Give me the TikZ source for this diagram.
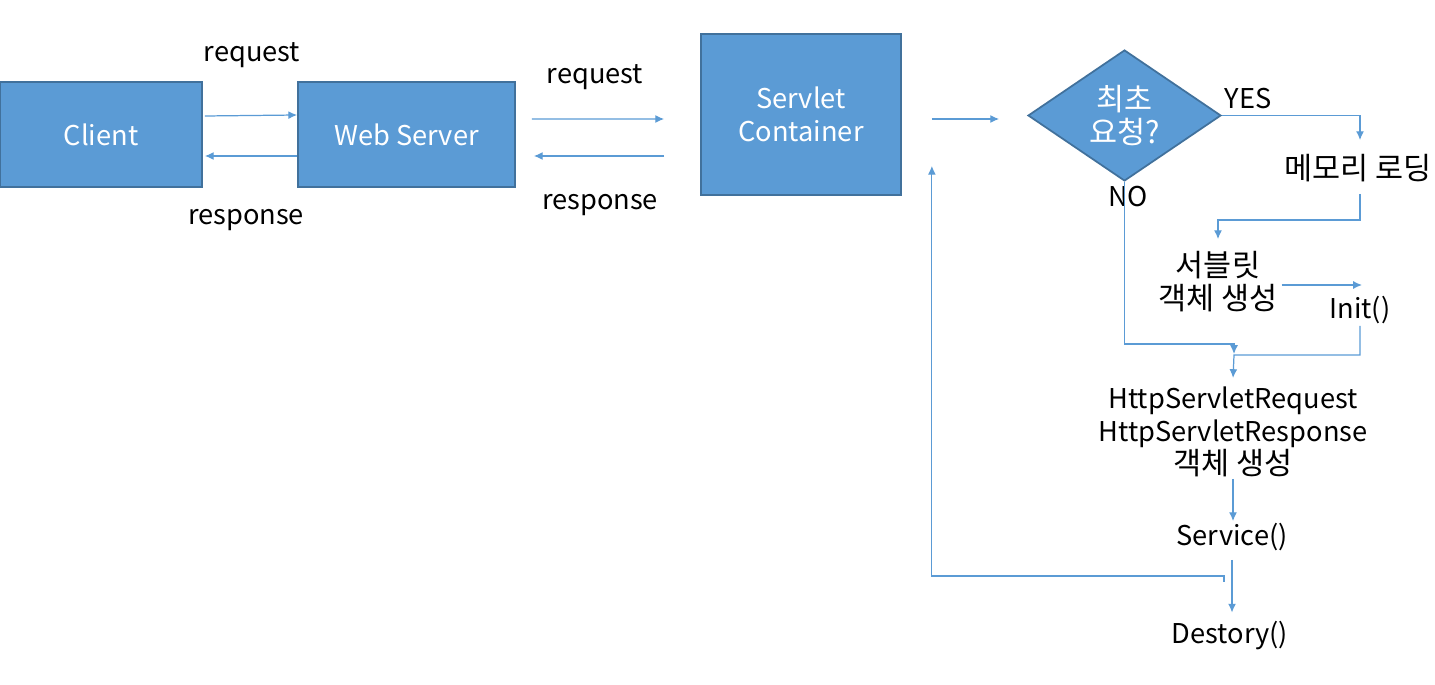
\documentclass[tikz,border=0pt]{standalone}
\usepackage{fontspec}
\setmainfont{Noto Sans CJK KR}
\newfontfamily\kr[Scale=1.12]{Noto Sans CJK KR}
\usetikzlibrary{shapes.geometric,arrows.meta}
\definecolor{boxblue}{HTML}{5B9BD5}
\definecolor{boxedge}{HTML}{41719C}
\def \tipSize {5pt}

\begin{document}
\begin{tikzpicture}[x=0.02cm, y=-0.02cm,
      every node/.style={font=\fontsize{15.5}{18.7}\selectfont},
      box/.style={draw=boxedge, line width=1pt, fill=boxblue, text=white, align=center, inner sep=0pt},
      decision/.style={diamond, draw=boxedge, line width=1pt, fill=boxblue, text=white, align=center,
         inner sep=0pt, minimum width=3.86cm, minimum height=2.3cm},
      lbl/.style={align=center, inner sep=1pt},
      arr/.style={-{Latex[length=\tipSize, width=4.5pt]}, draw=boxblue, line width=0.7pt}]
      \useasboundingbox (0, 0) rectangle (1435, 685);
      % blocks
      \node[box, minimum width=4.04cm, minimum height=2.1cm] (client) at (101, 134.5) {Client};
      \node[box, minimum width=4.34cm, minimum height=2.1cm] (web) at (406.5, 134.5) {Web Server};
      \node[box, minimum width=4cm, minimum height=3.22cm] (container) at (801, 114.5) {Servlet\\Container};
      \node[lbl] (req1) at (252, 55) {request};
      \node[lbl] (resp1) at (246, 220) {response};
      \node[lbl] (req2) at (595, 77) {request};
      \node[lbl] (resp2) at (600, 205) {response};
      \draw[arr] ([shift={(2, -18.5)}]client.east) -- ([shift={(0, -19.5)}]web.west);
      \draw[arr] ([shift={(0, 21.5)}]web.west) -- ([shift={(2, 21.5)}]client.east);
      \draw[arr] ([shift={(16, -15.5)}]web.east) -- ([shift={(-36, 4.5)}]container.west);
      \draw[arr] ([shift={(-36, 41.5)}]container.west) -- ([shift={(18, 21.5)}]web.east);
      % flow inside the container
      \node[decision] (first) at (1124.5, 115.5) {\kr 최초\\\kr 요청?};
      \draw[arr] ([shift={(30, 4.5)}]container.east) -- ([shift={(-28, 3.5)}]first.west);
      \node[lbl] (yes) at (1248, 99) {YES};
      \node[lbl] (no) at (1128, 197) {NO};
      \node[lbl] (load) at (1358, 168) {\kr 메모리 로딩};
      \node[lbl] (create) at (1218, 282) {\kr 서블릿\\\kr 객체 생성};
      \node[lbl] (init) at (1360, 310) {Init()};
      \node[lbl] (http) at (1233, 432) {HttpServletRequest\\HttpServletResponse\\\kr 객체 생성};
      \node[lbl] (service) at (1232, 537) {Service()};
      \node[lbl] (destroy) at (1230, 636) {Destory()};
      \coordinate (nojoin) at (1234, 344);
      \coordinate (initjoin) at (1234, 355);
      \draw[arr] (first.east) -| ([shift={(2, -12)}]load.north);
      \draw[arr] ([shift={(2, 10)}]load.south) -- ++(0, 26) -| ([yshift=6pt]create.north);
      \draw[arr] ([shift={(2, 3)}]create.east) -- ([shift={(2, 3)}]create.east -| init.north);
      \draw[arr] (first.south) |- (nojoin) -- ++(0, 10);
      \draw[arr] (init.south) |- (initjoin) -- ([yshift=4pt]http.north);
      \draw[arr] (http.south) -- (http.south |- service.north);
      \draw[arr] ([yshift=-4pt]service.south) -- ([yshift=4pt]service.south |- destroy.north);
      \draw[arr] ([shift={(-8, 29)}]service.south) -- ++(0, -6) -| ([shift={(30, -30)}]container.south east);
   \end{tikzpicture}
\end{document}
